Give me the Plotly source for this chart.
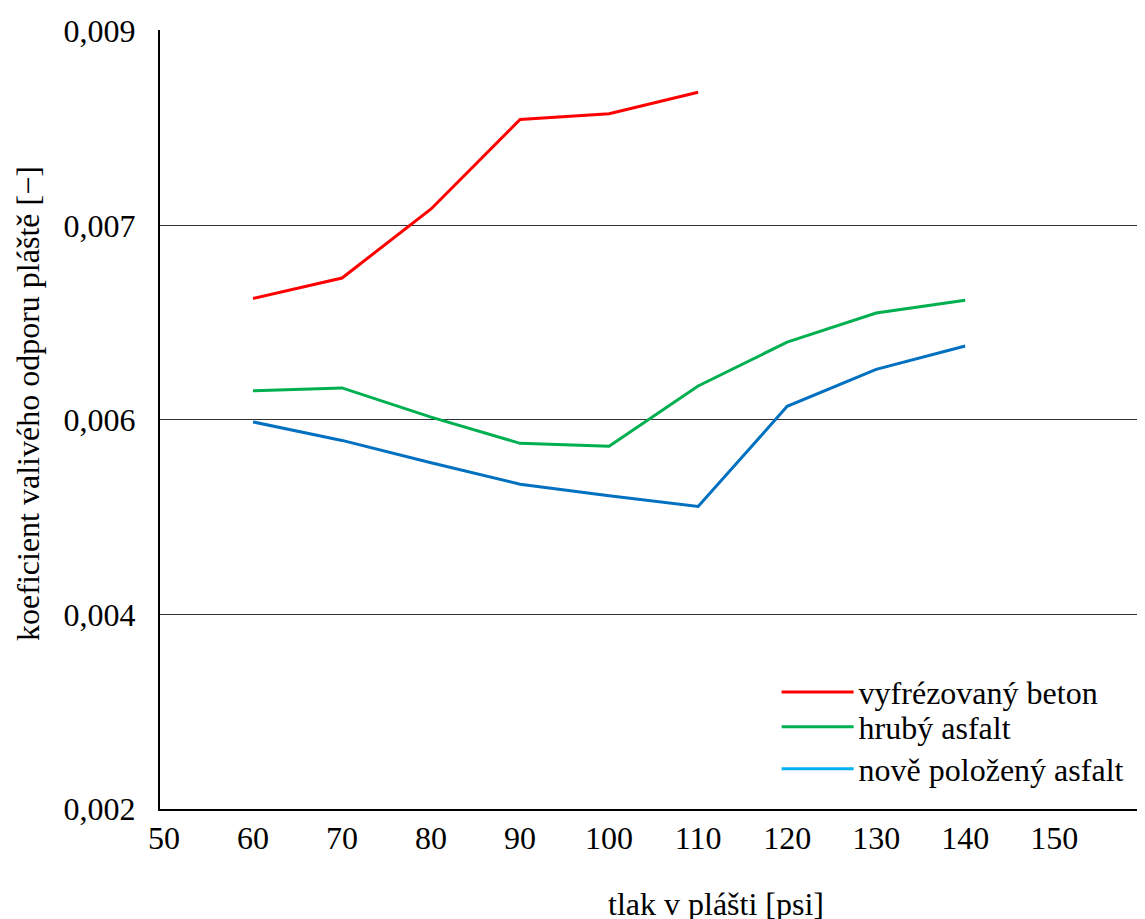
import plotly.graph_objects as go

# Data (x: tire pressure in psi; y: rolling resistance coefficient on the chart's linear scale)
pressure_red = [60, 70, 80, 90, 100, 110]
beton = [0.00725, 0.00746, 0.00817, 0.00909, 0.00915, 0.00937]

pressure = [60, 70, 80, 90, 100, 110, 120, 130, 140]
hruby = [0.00630, 0.00633, 0.00603, 0.00576, 0.00573, 0.00635, 0.00680, 0.00710, 0.00723]
novy = [0.00598, 0.00579, 0.00556, 0.00534, 0.00522, 0.00511, 0.00614, 0.00652, 0.00676]

series_names = ["vyfrézovaný beton", "hrubý asfalt", "nově položený asfalt"]
line_colors = ["#FF0000", "#00B050", "#0070C0"]
legend_colors = ["#FF0000", "#00B050", "#00B0F0"]

x_ticks = [50, 60, 70, 80, 90, 100, 110, 120, 130, 140, 150]
y_tickvals = [0.002, 0.004, 0.006, 0.008, 0.010]
y_ticktext = ["0,002", "0,004", "0,006", "0,007", "0,009"]

FONT = "'Liberation Serif', 'Times New Roman', serif"
FS = 32

fig = go.Figure()
for xs, ys, c in [(pressure_red, beton, line_colors[0]),
                  (pressure, hruby, line_colors[1]),
                  (pressure, novy, line_colors[2])]:
    fig.add_trace(go.Scatter(x=xs, y=ys, mode="lines", line=dict(color=c, width=3),
                             showlegend=False))

legend_ids = ["legend", "legend2", "legend3"]
legend_rows = [0.150, 0.1053, 0.0513]
for name, c, lid in zip(series_names, legend_colors, legend_ids):
    fig.add_trace(go.Scatter(x=[None], y=[None], mode="lines", name=name,
                             line=dict(color=c, width=3), legend=lid))

legend_common = dict(x=0.626, xanchor="left", yanchor="middle",
                     bgcolor="rgba(0,0,0,0)", font=dict(size=FS, family=FONT),
                     itemwidth=72)

fig.update_layout(
    width=1137, height=911,
    margin=dict(l=152, r=0, t=22, b=110),
    paper_bgcolor="white", plot_bgcolor="white",
    font=dict(family=FONT, size=FS, color="black"),
    showlegend=True,
    legend=dict(y=legend_rows[0], **legend_common),
    legend2=dict(y=legend_rows[1], **legend_common),
    legend3=dict(y=legend_rows[2], **legend_common),
    xaxis=dict(range=[49.55, 160.2], tickvals=x_ticks, showgrid=False,
               showline=True, linecolor="black", linewidth=2, ticks="",
               zeroline=False, ticklabelstandoff=0,
               tickfont=dict(size=FS, family=FONT)),
    yaxis=dict(range=[0.002, 0.01001], tickvals=y_tickvals, ticktext=y_ticktext,
               showgrid=True, gridcolor="#333333", gridwidth=1,
               showline=True, linecolor="black", linewidth=2, ticks="",
               zeroline=False, ticklabelstandoff=16,
               tickfont=dict(size=FS, family=FONT)),
    annotations=[
        dict(text="tlak v plášti [psi]", xref="paper", yref="paper",
             x=0.5645, y=-0.122, xanchor="center", yanchor="middle",
             showarrow=False, font=dict(size=FS, family=FONT)),
        dict(text="koeficient valivého odporu pláště [−]", xref="paper", yref="paper",
             x=-0.134, y=0.52, xanchor="center", yanchor="middle", textangle=-90,
             showarrow=False, font=dict(size=FS, family=FONT)),
    ],
)

fig.write_html("out.html")
